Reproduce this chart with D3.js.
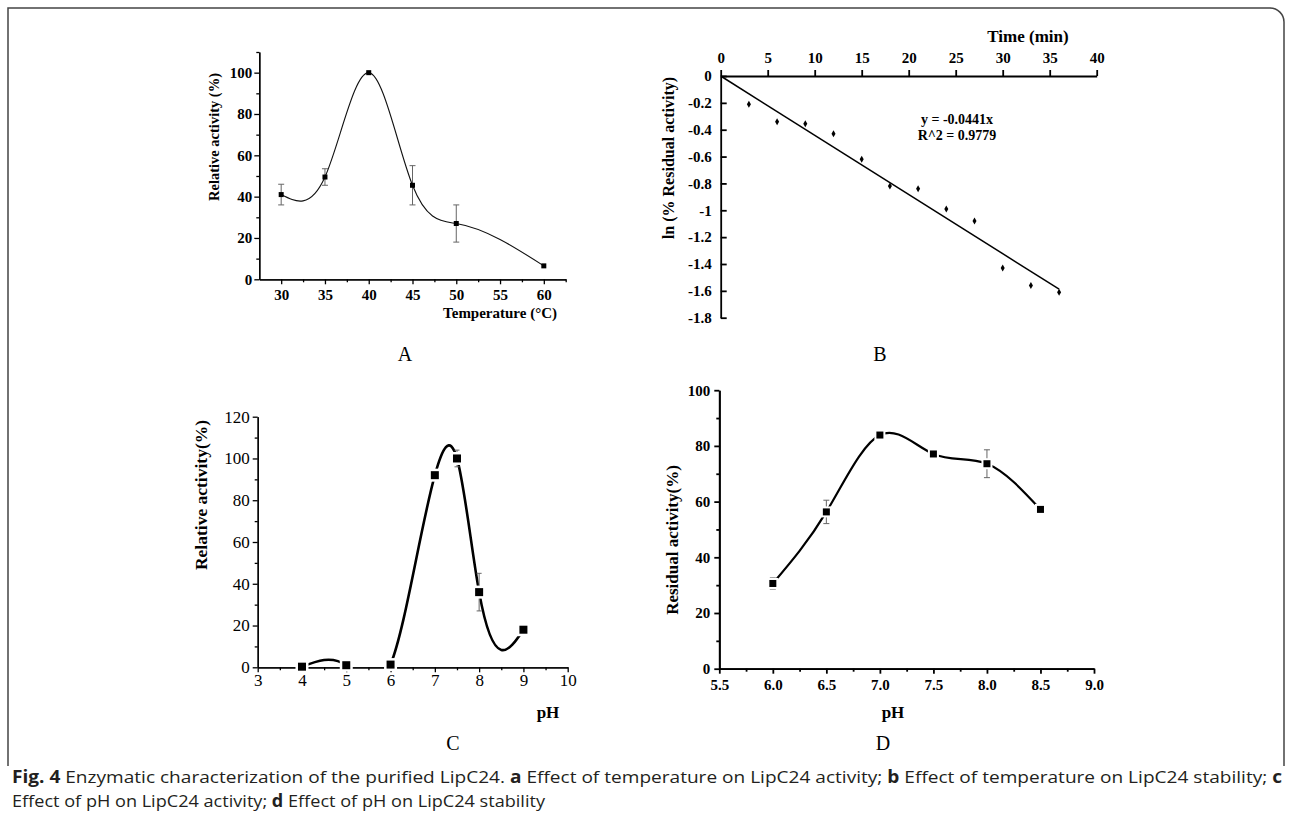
<!DOCTYPE html>
<html>
<head>
<meta charset="utf-8">
<title>LipC24 enzymatic characterization</title>
<script src="https://cdn.jsdelivr.net/npm/d3@7"></script>
<style>
body { margin: 0; background: #fff; }
svg { display: block; font-family: "Liberation Serif", "DejaVu Serif", serif; }
.axis path, .axis line { stroke: #000; }
.cap { font-family: "Open Sans", "Liberation Sans", sans-serif; fill: #231f20; }
</style>
</head>
<body>
<script>
  // A: temperature vs relative activity
  var tempC = [30, 35, 40, 45, 50, 60];
  var tempActivity = [41, 49.5, 100, 45.5, 27, 6.5];
  var tempActivityErr = [5, 4, 0, 9.5, 9, 0];

  // B: thermal stability, ln(% residual activity) vs time
  var timeMin = [3, 6, 9, 12, 15, 18, 21, 24, 27, 30, 33, 36];
  var lnResidual = [-0.21, -0.34, -0.355, -0.43, -0.62, -0.82, -0.84, -0.99, -1.08, -1.43, -1.56, -1.61];
  var fitSlope = -0.0441;
  var fitEnd = 36;

  // C: pH vs relative activity
  var phActivity = [4, 5, 6, 7, 7.5, 8, 9];
  var relActivity = [0.3, 1, 1.3, 92, 100, 36, 18];
  var relActivityErr = [0, 0, 0, 0, 4, 9, 0];

  // D: pH stability
  var phStability = [6.0, 6.5, 7.0, 7.5, 8.0, 8.5];
  var residual = [30.6, 56.3, 83.9, 77.1, 73.6, 57.2];
  var residualErr = [2, 4.2, 0.8, 1, 5, 1];

  var svg = d3.select("body").append("svg").attr("width", 1292).attr("height", 824);

  // spline y(x) through the points (natural end conditions), drawn as bezier pieces
  function naturalX(context) {
    var xs, ys;
    return {
      areaStart: function() {}, areaEnd: function() {},
      lineStart: function() { xs = []; ys = []; },
      point: function(x, y) { xs.push(+x); ys.push(+y); },
      lineEnd: function() {
        var n = xs.length - 1;
        if (n < 1) return;
        context.moveTo(xs[0], ys[0]);
        if (n === 1) { context.lineTo(xs[1], ys[1]); return; }
        var h = [], s = [], i;
        for (i = 0; i < n; i++) { h.push(xs[i + 1] - xs[i]); s.push((ys[i + 1] - ys[i]) / h[i]); }
        var a = [], b = [], c = [], r = [];
        for (i = 1; i < n; i++) {
          a.push(h[i - 1]); b.push(2 * (h[i - 1] + h[i])); c.push(h[i]); r.push(6 * (s[i] - s[i - 1]));
        }
        var m = n - 1;
        for (i = 1; i < m; i++) {
          var w = a[i] / b[i - 1];
          b[i] -= w * c[i - 1]; r[i] -= w * r[i - 1];
        }
        var sol = new Array(m);
        sol[m - 1] = r[m - 1] / b[m - 1];
        for (i = m - 2; i >= 0; i--) sol[i] = (r[i] - c[i] * sol[i + 1]) / b[i];
        var M = [0].concat(sol, [0]);
        for (i = 0; i < n; i++) {
          var d0 = s[i] - h[i] * (2 * M[i] + M[i + 1]) / 6;
          var d1 = s[i] + h[i] * (M[i] + 2 * M[i + 1]) / 6;
          context.bezierCurveTo(xs[i] + h[i] / 3, ys[i] + d0 * h[i] / 3,
                                xs[i + 1] - h[i] / 3, ys[i + 1] - d1 * h[i] / 3,
                                xs[i + 1], ys[i + 1]);
        }
      }
    };
  }

  function styleAxis(g, size, weight, width) {
    g.attr("class", "axis");
    g.selectAll("path").attr("stroke-width", width);
    g.selectAll("line").attr("stroke-width", width);
    g.selectAll("text").attr("font-size", size).attr("font-weight", weight)
      .attr("font-family", "Liberation Serif, serif").attr("fill", "#000");
  }

  function errorBars(g, xs, ys, es, x, y, cap) {
    var d = xs.map(function(v, i) { return { x: v, y: ys[i], e: es[i] }; }).filter(function(p) { return p.e > 0; });
    var eb = g.selectAll(null).data(d).enter().append("g")
      .attr("stroke", "#666").attr("stroke-width", 1);
    eb.append("line")
      .attr("x1", function(p) { return x(p.x); }).attr("x2", function(p) { return x(p.x); })
      .attr("y1", function(p) { return y(p.y - p.e); }).attr("y2", function(p) { return y(p.y + p.e); });
    eb.append("line")
      .attr("x1", function(p) { return x(p.x) - cap; }).attr("x2", function(p) { return x(p.x) + cap; })
      .attr("y1", function(p) { return y(p.y - p.e); }).attr("y2", function(p) { return y(p.y - p.e); });
    eb.append("line")
      .attr("x1", function(p) { return x(p.x) - cap; }).attr("x2", function(p) { return x(p.x) + cap; })
      .attr("y1", function(p) { return y(p.y + p.e); }).attr("y2", function(p) { return y(p.y + p.e); });
  }

  function squares(g, xs, ys, x, y, size, halo) {
    g.selectAll(null).data(xs).enter().append("rect")
      .attr("x", function(v) { return x(v) - size / 2; })
      .attr("y", function(v, i) { return y(ys[i]) - size / 2; })
      .attr("width", size).attr("height", size)
      .attr("fill", "#000")
      .attr("stroke", halo ? "#fff" : "none").attr("stroke-width", halo || 0)
      .attr("paint-order", "stroke");
  }

  // frame
  svg.append("path")
    .attr("d", "M8,766 V8 H1270 A14,14 0 0 1 1284,22 V766")
    .attr("fill", "none").attr("stroke", "#444").attr("stroke-width", 1.5);

  // ---------- A ----------
  var xA = d3.scaleLinear().domain([27.5, 62.5]).range([259.3, 565.7]);
  var yA = d3.scaleLinear().domain([0, 110]).range([279.3, 52]);
  var gA = svg.append("g");
  gA.append("g").attr("transform", "translate(0,279.3)")
    .call(d3.axisBottom(xA).tickValues([32.5, 37.5, 42.5, 47.5, 52.5, 57.5, 62.5]).tickSize(3).tickSizeOuter(0).tickFormat(""))
    .call(styleAxis, 15, "bold", 1.3);
  gA.append("g").attr("transform", "translate(0,279.3)")
    .call(d3.axisBottom(xA).tickValues(d3.range(30, 61, 5)).tickSize(5).tickPadding(5).tickSizeOuter(0).tickFormat(d3.format("d")))
    .call(styleAxis, 15, "bold", 1.3);
  gA.append("g").attr("transform", "translate(259.3,0)")
    .call(d3.axisLeft(yA).tickValues(d3.range(10, 111, 20)).tickSize(3).tickSizeOuter(0).tickFormat(""))
    .call(styleAxis, 15, "bold", 1.3);
  gA.append("g").attr("transform", "translate(259.3,0)")
    .call(d3.axisLeft(yA).tickValues(d3.range(0, 101, 20)).tickSize(5).tickPadding(2).tickSizeOuter(0).tickFormat(d3.format("d")))
    .call(styleAxis, 15, "bold", 1.3);
  errorBars(gA, tempC, tempActivity, tempActivityErr, xA, yA, 3);
  gA.append("path")
    .attr("d", d3.line().x(function(v) { return xA(v); }).y(function(v, i) { return yA(tempActivity[i]); }).curve(naturalX)(tempC))
    .attr("fill", "none").attr("stroke", "#111").attr("stroke-width", 1.1);
  squares(gA, tempC, tempActivity, xA, yA, 5, 0);
  gA.append("text").attr("transform", "translate(219,137) rotate(-90)")
    .attr("text-anchor", "middle").attr("font-size", 14.5).attr("font-weight", "bold")
    .text("Relative activity (%)");
  gA.append("text").attr("x", 557).attr("y", 318).attr("text-anchor", "end")
    .attr("font-size", 15).attr("font-weight", "bold").text("Temperature (°C)");
  svg.append("text").attr("x", 405).attr("y", 361).attr("text-anchor", "middle")
    .attr("font-size", 20).text("A");

  // ---------- B ----------
  var xB = d3.scaleLinear().domain([0, 40]).range([720.7, 1096.7]);
  var yB = d3.scaleLinear().domain([-1.8, 0]).range([317.7, 76]);
  var gB = svg.append("g");
  gB.append("g").attr("transform", "translate(0,76)")
    .call(d3.axisTop(xB).tickValues(d3.range(0, 41, 5)).tickSize(6).tickPadding(7).tickSizeOuter(0).tickFormat(d3.format("d")))
    .call(styleAxis, 15, "bold", 1.8);
  gB.append("g").attr("transform", "translate(720.7,0)")
    .call(d3.axisLeft(yB).tickValues(d3.range(0, 10).map(function(i) { return -i * 0.2; }))
      .tickSize(-6).tickPadding(9).tickSizeOuter(0)
      .tickFormat(function(d) { return Math.abs(d) < 1e-9 ? "0" : String(+d.toFixed(1)); }))
    .call(styleAxis, 15, "bold", 1.8);
  gB.append("line")
    .attr("x1", xB(0)).attr("y1", yB(0))
    .attr("x2", xB(fitEnd)).attr("y2", yB(fitSlope * fitEnd))
    .attr("stroke", "#000").attr("stroke-width", 1.5);
  gB.selectAll(null).data(timeMin).enter().append("path")
    .attr("d", d3.symbol().type(d3.symbolDiamond).size(14))
    .attr("transform", function(v, i) { return "translate(" + xB(v) + "," + yB(lnResidual[i]) + ")"; })
    .attr("fill", "#000");
  gB.append("text").attr("x", 957).attr("y", 124).attr("text-anchor", "middle")
    .attr("font-size", 14).attr("font-weight", "bold").text("y = -0.0441x");
  gB.append("text").attr("x", 957).attr("y", 140).attr("text-anchor", "middle")
    .attr("font-size", 14).attr("font-weight", "bold").text("R^2 = 0.9779");
  gB.append("text").attr("x", 1028).attr("y", 42).attr("text-anchor", "middle")
    .attr("font-size", 17).attr("font-weight", "bold").text("Time (min)");
  gB.append("text").attr("transform", "translate(674,158) rotate(-90)")
    .attr("text-anchor", "middle").attr("font-size", 16).attr("font-weight", "bold")
    .text("ln (% Residual activity)");
  svg.append("text").attr("x", 880).attr("y", 361).attr("text-anchor", "middle")
    .attr("font-size", 20).text("B");

  // ---------- C ----------
  var xC = d3.scaleLinear().domain([3, 10]).range([257.7, 567.7]);
  var yC = d3.scaleLinear().domain([0, 120]).range([667.3, 416.7]);
  var gC = svg.append("g");
  svg.append("clipPath").attr("id", "clipC").append("rect")
    .attr("x", xC(3)).attr("y", yC(120)).attr("width", xC(10) - xC(3)).attr("height", yC(0) - yC(120));
  gC.append("g").attr("transform", "translate(0,667.3)")
    .call(d3.axisBottom(xC).tickValues(d3.range(3.5, 10, 1)).tickSize(3).tickSizeOuter(0).tickFormat(""))
    .call(styleAxis, 17, "normal", 1.3);
  gC.append("g").attr("transform", "translate(0,667.3)")
    .call(d3.axisBottom(xC).tickValues(d3.range(3, 11, 1)).tickSize(5).tickPadding(2).tickSizeOuter(0).tickFormat(d3.format("d")))
    .call(styleAxis, 17, "normal", 1.3);
  gC.append("g").attr("transform", "translate(257.7,0)")
    .call(d3.axisLeft(yC).tickValues(d3.range(10, 120, 20)).tickSize(3).tickSizeOuter(0).tickFormat(""))
    .call(styleAxis, 17, "normal", 1.3);
  gC.append("g").attr("transform", "translate(257.7,0)")
    .call(d3.axisLeft(yC).tickValues(d3.range(0, 121, 20)).tickSize(5).tickPadding(3).tickSizeOuter(0).tickFormat(d3.format("d")))
    .call(styleAxis, 17, "normal", 1.3);
  gC.append("path")
    .attr("clip-path", "url(#clipC)")
    .attr("d", d3.line().x(function(v) { return xC(v); }).y(function(v, i) { return yC(relActivity[i]); }).curve(naturalX)(phActivity))
    .attr("fill", "none").attr("stroke", "#000").attr("stroke-width", 2.6);
  errorBars(gC, phActivity, relActivity, relActivityErr, xC, yC, 2.5);
  squares(gC, phActivity, relActivity, xC, yC, 8, 5);
  gC.append("text").attr("transform", "translate(207,495) rotate(-90)")
    .attr("text-anchor", "middle").attr("font-size", 17.5).attr("font-weight", "bold")
    .text("Relative activity(%)");
  gC.append("text").attr("x", 548).attr("y", 718).attr("text-anchor", "middle")
    .attr("font-size", 17).attr("font-weight", "bold").text("pH");
  svg.append("text").attr("x", 453).attr("y", 750).attr("text-anchor", "middle")
    .attr("font-size", 20).text("C");

  // ---------- D ----------
  var xD = d3.scaleLinear().domain([5.5, 9.0]).range([719.3, 1094]);
  var yD = d3.scaleLinear().domain([0, 100]).range([668.7, 390.2]);
  var gD = svg.append("g");
  gD.append("g").attr("transform", "translate(0,668.7)")
    .call(d3.axisBottom(xD).tickValues(d3.range(5.75, 9, 0.5)).tickSize(3).tickSizeOuter(0).tickFormat(""))
    .call(styleAxis, 15, "bold", 1.8);
  gD.append("g").attr("transform", "translate(0,668.7)")
    .call(d3.axisBottom(xD).tickValues(d3.range(5.5, 9.01, 0.5)).tickSize(5).tickPadding(6).tickSizeOuter(0).tickFormat(d3.format(".1f")))
    .call(styleAxis, 15, "bold", 1.8);
  gD.append("g").attr("transform", "translate(719.3,0)")
    .call(d3.axisLeft(yD).tickValues(d3.range(10, 100, 20)).tickSize(3).tickSizeOuter(0).tickFormat(""))
    .call(styleAxis, 15, "bold", 1.8);
  gD.append("g").attr("transform", "translate(719.3,0)")
    .call(d3.axisLeft(yD).tickValues(d3.range(0, 101, 20)).tickSize(5).tickPadding(4).tickSizeOuter(0).tickFormat(d3.format("d")))
    .call(styleAxis, 15, "bold", 1.8);
  gD.append("path")
    .attr("d", d3.line().x(function(v) { return xD(v); }).y(function(v, i) { return yD(residual[i]); }).curve(naturalX)(phStability))
    .attr("fill", "none").attr("stroke", "#000").attr("stroke-width", 2.2);
  errorBars(gD, phStability, residual, residualErr, xD, yD, 3);
  squares(gD, phStability, residual, xD, yD, 7, 4);
  gD.append("text").attr("transform", "translate(678,540) rotate(-90)")
    .attr("text-anchor", "middle").attr("font-size", 17).attr("font-weight", "bold")
    .text("Residual activity(%)");
  gD.append("text").attr("x", 893).attr("y", 718).attr("text-anchor", "middle")
    .attr("font-size", 17).attr("font-weight", "bold").text("pH");
  svg.append("text").attr("x", 883).attr("y", 750).attr("text-anchor", "middle")
    .attr("font-size", 20).text("D");

  // ---------- caption ----------
  var line1 = [["Fig. 4", true], [" Enzymatic characterization of the purified LipC24. ", false], ["a", true],
    [" Effect of temperature on LipC24 activity; ", false], ["b", true],
    [" Effect of temperature on LipC24 stability; ", false], ["c", true]];
  var line2 = [["Effect of pH on LipC24 activity; ", false], ["d", true], [" Effect of pH on LipC24 stability", false]];

  function captionLine(parts, y, len) {
    var t = svg.append("text").attr("class", "cap").attr("x", 12).attr("y", y)
      .attr("font-size", 17).attr("textLength", len).attr("lengthAdjust", "spacingAndGlyphs")
      .attr("xml:space", "preserve");
    parts.forEach(function(p) {
      t.append("tspan").attr("font-weight", p[1] ? "bold" : "normal").text(p[0]);
    });
  }
  captionLine(line1, 783, 1270);
  captionLine(line2, 807, 533);
</script>
</body>
</html>
